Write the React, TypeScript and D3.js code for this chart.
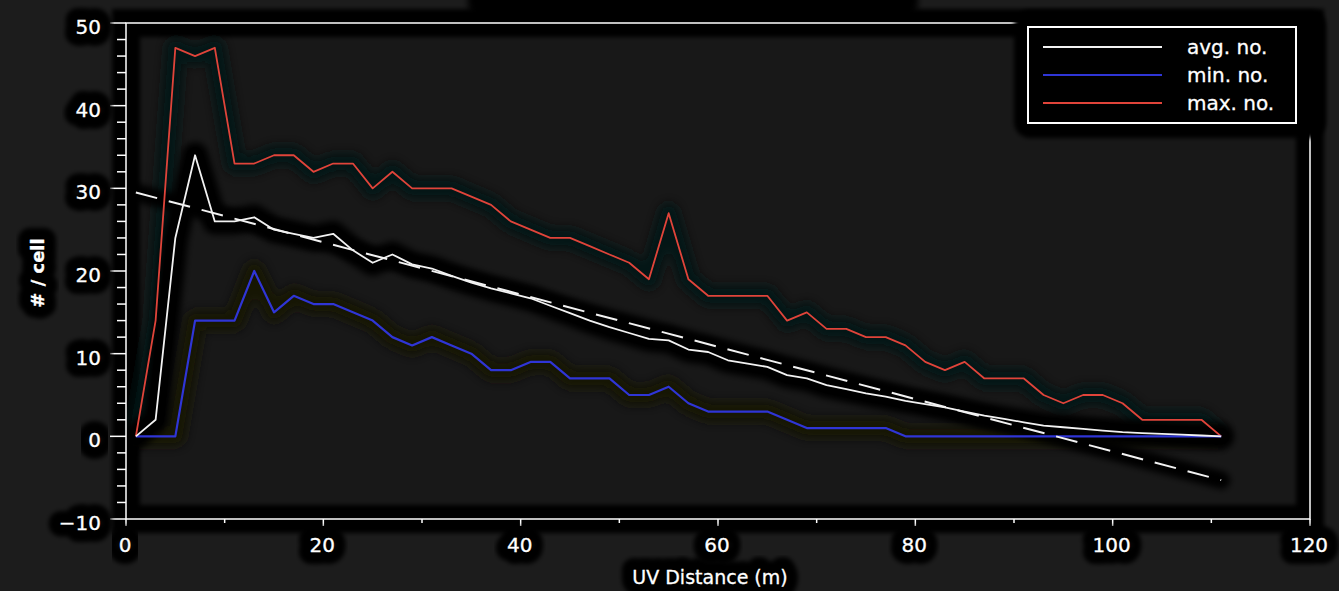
import React from 'react';
import * as d3 from 'd3';

const uvDistance = [1, 3, 5, 7, 9, 11, 13, 15, 17, 19, 21, 23, 25, 27, 29, 31, 33, 35, 37, 39, 41, 43, 45, 47, 49, 51, 53, 55, 57, 59, 61, 63, 65, 67, 69, 71, 73, 75, 77, 79, 81, 83, 85, 87, 89, 91, 93, 95, 97, 99, 101, 103, 105, 107, 109, 111];
const avgNo = [0, 2, 24, 34, 26, 26, 26.5, 25, 24.5, 24, 24.5, 22.5, 21, 22, 20.8, 20.3, 19.4, 18.6, 17.9, 17.3, 16.7, 15.8, 14.9, 14, 13.2, 12.5, 11.8, 11.6, 10.5, 10.2, 9.2, 8.8, 8.4, 7.4, 7, 6.2, 5.7, 5.2, 4.8, 4.3, 3.9, 3.5, 3, 2.5, 2.1, 1.7, 1.3, 1.1, 0.9, 0.7, 0.5, 0.4, 0.3, 0.2, 0.1, 0];
const minNo = [0, 0, 0, 14, 14, 14, 20, 15, 17, 16, 16, 15, 14, 12, 11, 12, 11, 10, 8, 8, 9, 9, 7, 7, 7, 5, 5, 6, 4, 3, 3, 3, 3, 2, 1, 1, 1, 1, 1, 0, 0, 0, 0, 0, 0, 0, 0, 0, 0, 0, 0, 0, 0, 0, 0, 0];
const maxNo = [0, 14, 47, 46, 47, 33, 33, 34, 34, 32, 33, 33, 30, 32, 30, 30, 30, 29, 28, 26, 25, 24, 24, 23, 22, 21, 19, 27, 19, 17, 17, 17, 17, 14, 15, 13, 13, 12, 12, 11, 9, 8, 9, 7, 7, 7, 5, 4, 5, 5, 4, 2, 2, 2, 2, 0];
const trendX = [1, 111];
const trendY = [29.5, -5.3];
const xTickValues = [0, 20, 40, 60, 80, 100, 120];
const yTickValues = [-10, 0, 10, 20, 30, 40, 50];
const legendLabels = ['avg. no.', 'min. no.', 'max. no.'];
const legendColors = ['#f2f2f2', '#2f35d6', '#e0443a'];

const W = 1339;
const H = 591;
const FONT = '"DejaVu Sans", Verdana, sans-serif';

function HaloText(props: any) {
  const { children, haloWidth = 24, ...rest } = props;
  return (
    <g>
      <text {...rest} fill="#000" stroke="#000" strokeWidth={haloWidth} strokeLinejoin="round" filter="url(#blur2)">{children}</text>
      <text {...rest} fill="#fff" stroke="#fff" strokeWidth={0.3}>{children}</text>
    </g>
  );
}

export default function App() {
  const x = d3.scaleLinear().domain([0, 120]).range([126, 1310]);
  const y = d3.scaleLinear().domain([-10, 50]).range([519, 23]);
  const line = d3.line<[number, number]>().x(d => x(d[0])).y(d => y(d[1]));
  const path = (vals: number[]) => line(uvDistance.map((u, i) => [u, vals[i]] as [number, number])) || '';
  const trendPath = line(trendX.map((u, i) => [u, trendY[i]] as [number, number])) || '';
  const [x0, x1] = x.range();
  const [yb, yt] = y.range();
  const xMinor = x.ticks(12);
  const yMinor = y.ticks(30);

  return (
    <svg width={W} height={H} style={{ position: 'fixed', left: 0, top: 0, display: 'block' }} fontFamily={FONT}>
      <defs>
        <filter id="blur2" x="-50%" y="-50%" width="200%" height="200%"><feGaussianBlur stdDeviation="2" /></filter>
        <filter id="blur3" x="-50%" y="-50%" width="200%" height="200%"><feGaussianBlur stdDeviation="3" /></filter>
        <filter id="blur5" x="-50%" y="-50%" width="200%" height="200%"><feGaussianBlur stdDeviation="5" /></filter>
      </defs>
      <rect x={0} y={0} width={W} height={H} fill="#1c1c1c" />
      <rect x={x0} y={yt} width={x1 - x0} height={yb - yt} fill="#181818" />
      {/* cut-off title halo */}
      <rect x={468} y={-24} width={450} height={42} rx={14} fill="#000" filter="url(#blur3)" />
      {/* frame halo */}
      <rect x={x0} y={yt} width={x1 - x0} height={yb - yt} fill="none" stroke="#000" strokeWidth={28} filter="url(#blur2)" />

      {/* data halos */}
      <path d={path(maxNo)} fill="none" stroke="#031818" strokeWidth={20} strokeLinejoin="round" filter="url(#blur5)" opacity={0.85} />
      <path d={path(minNo)} fill="none" stroke="#181403" strokeWidth={20} strokeLinejoin="round" filter="url(#blur5)" opacity={0.85} />
      <path d={path(avgNo)} fill="none" stroke="#000" strokeWidth={26} strokeLinejoin="round" strokeLinecap="round" filter="url(#blur3)" />
      <path d={path(avgNo)} fill="none" stroke="#000" strokeWidth={16} strokeLinejoin="round" strokeLinecap="round" />
      <path d={trendPath} fill="none" stroke="#000" strokeWidth={18} strokeLinecap="round" filter="url(#blur3)" />

      {/* data lines */}
      <path d={path(maxNo)} fill="none" stroke={legendColors[2]} strokeWidth={1.8} strokeLinejoin="round" />
      <path d={path(minNo)} fill="none" stroke={legendColors[1]} strokeWidth={2.2} strokeLinejoin="round" />
      <path d={trendPath} fill="none" stroke="#f2f2f2" strokeWidth={2} strokeDasharray="22 12" />
      <path d={path(avgNo)} fill="none" stroke={legendColors[0]} strokeWidth={1.8} strokeLinejoin="round" />

      {/* frame */}
      <rect x={x0} y={yt} width={x1 - x0} height={yb - yt} fill="none" stroke="#fff" strokeWidth={1.5} />
      {yMinor.map(v => (
        <line key={'ym' + v} x1={x0} x2={x0 - (v % 10 === 0 ? 16 : 9)} y1={y(v)} y2={y(v)} stroke="#fff" strokeWidth={1.5} />
      ))}
      {xMinor.map(v => (
        <line key={'xm' + v} x1={x(v)} x2={x(v)} y1={yb} y2={yb + (v % 20 === 0 ? 7 : 4)} stroke="#fff" strokeWidth={1.5} />
      ))}
      {yTickValues.map(v => (
        <HaloText key={'yl' + v} x={101} y={y(v) + 4} textAnchor="end" dominantBaseline="central" fontSize={20}>{v === -10 ? '\u221210' : String(v)}</HaloText>
      ))}
      {xTickValues.map(v => (
        <HaloText key={'xl' + v} x={x(v) - 1} y={552} textAnchor="middle" fontSize={20}>{String(v)}</HaloText>
      ))}
      <HaloText x={710} y={584} textAnchor="middle" fontSize={19}>UV Distance (m)</HaloText>
      <HaloText transform="translate(44,273) rotate(-90)" x={0} y={0} textAnchor="middle" fontSize={18} fontWeight="bold">{'# / cell'}</HaloText>

      {/* legend */}
      <rect x={1014} y={10} width={312} height={128} rx={16} fill="#000" filter="url(#blur2)" />
      <rect x={1028} y={27} width={268} height={96} fill="#000" stroke="#fff" strokeWidth={2} />
      {legendLabels.map((lab, i) => {
        const cy = 47 + i * 28;
        return (
          <g key={lab}>
            <line x1={1043} x2={1162} y1={cy} y2={cy} stroke={legendColors[i]} strokeWidth={2.2} />
            <text x={1187} y={cy} dominantBaseline="central" fontSize={20} fill="#fff" stroke="#fff" strokeWidth={0.3}>{lab}</text>
          </g>
        );
      })}
    </svg>
  );
}
